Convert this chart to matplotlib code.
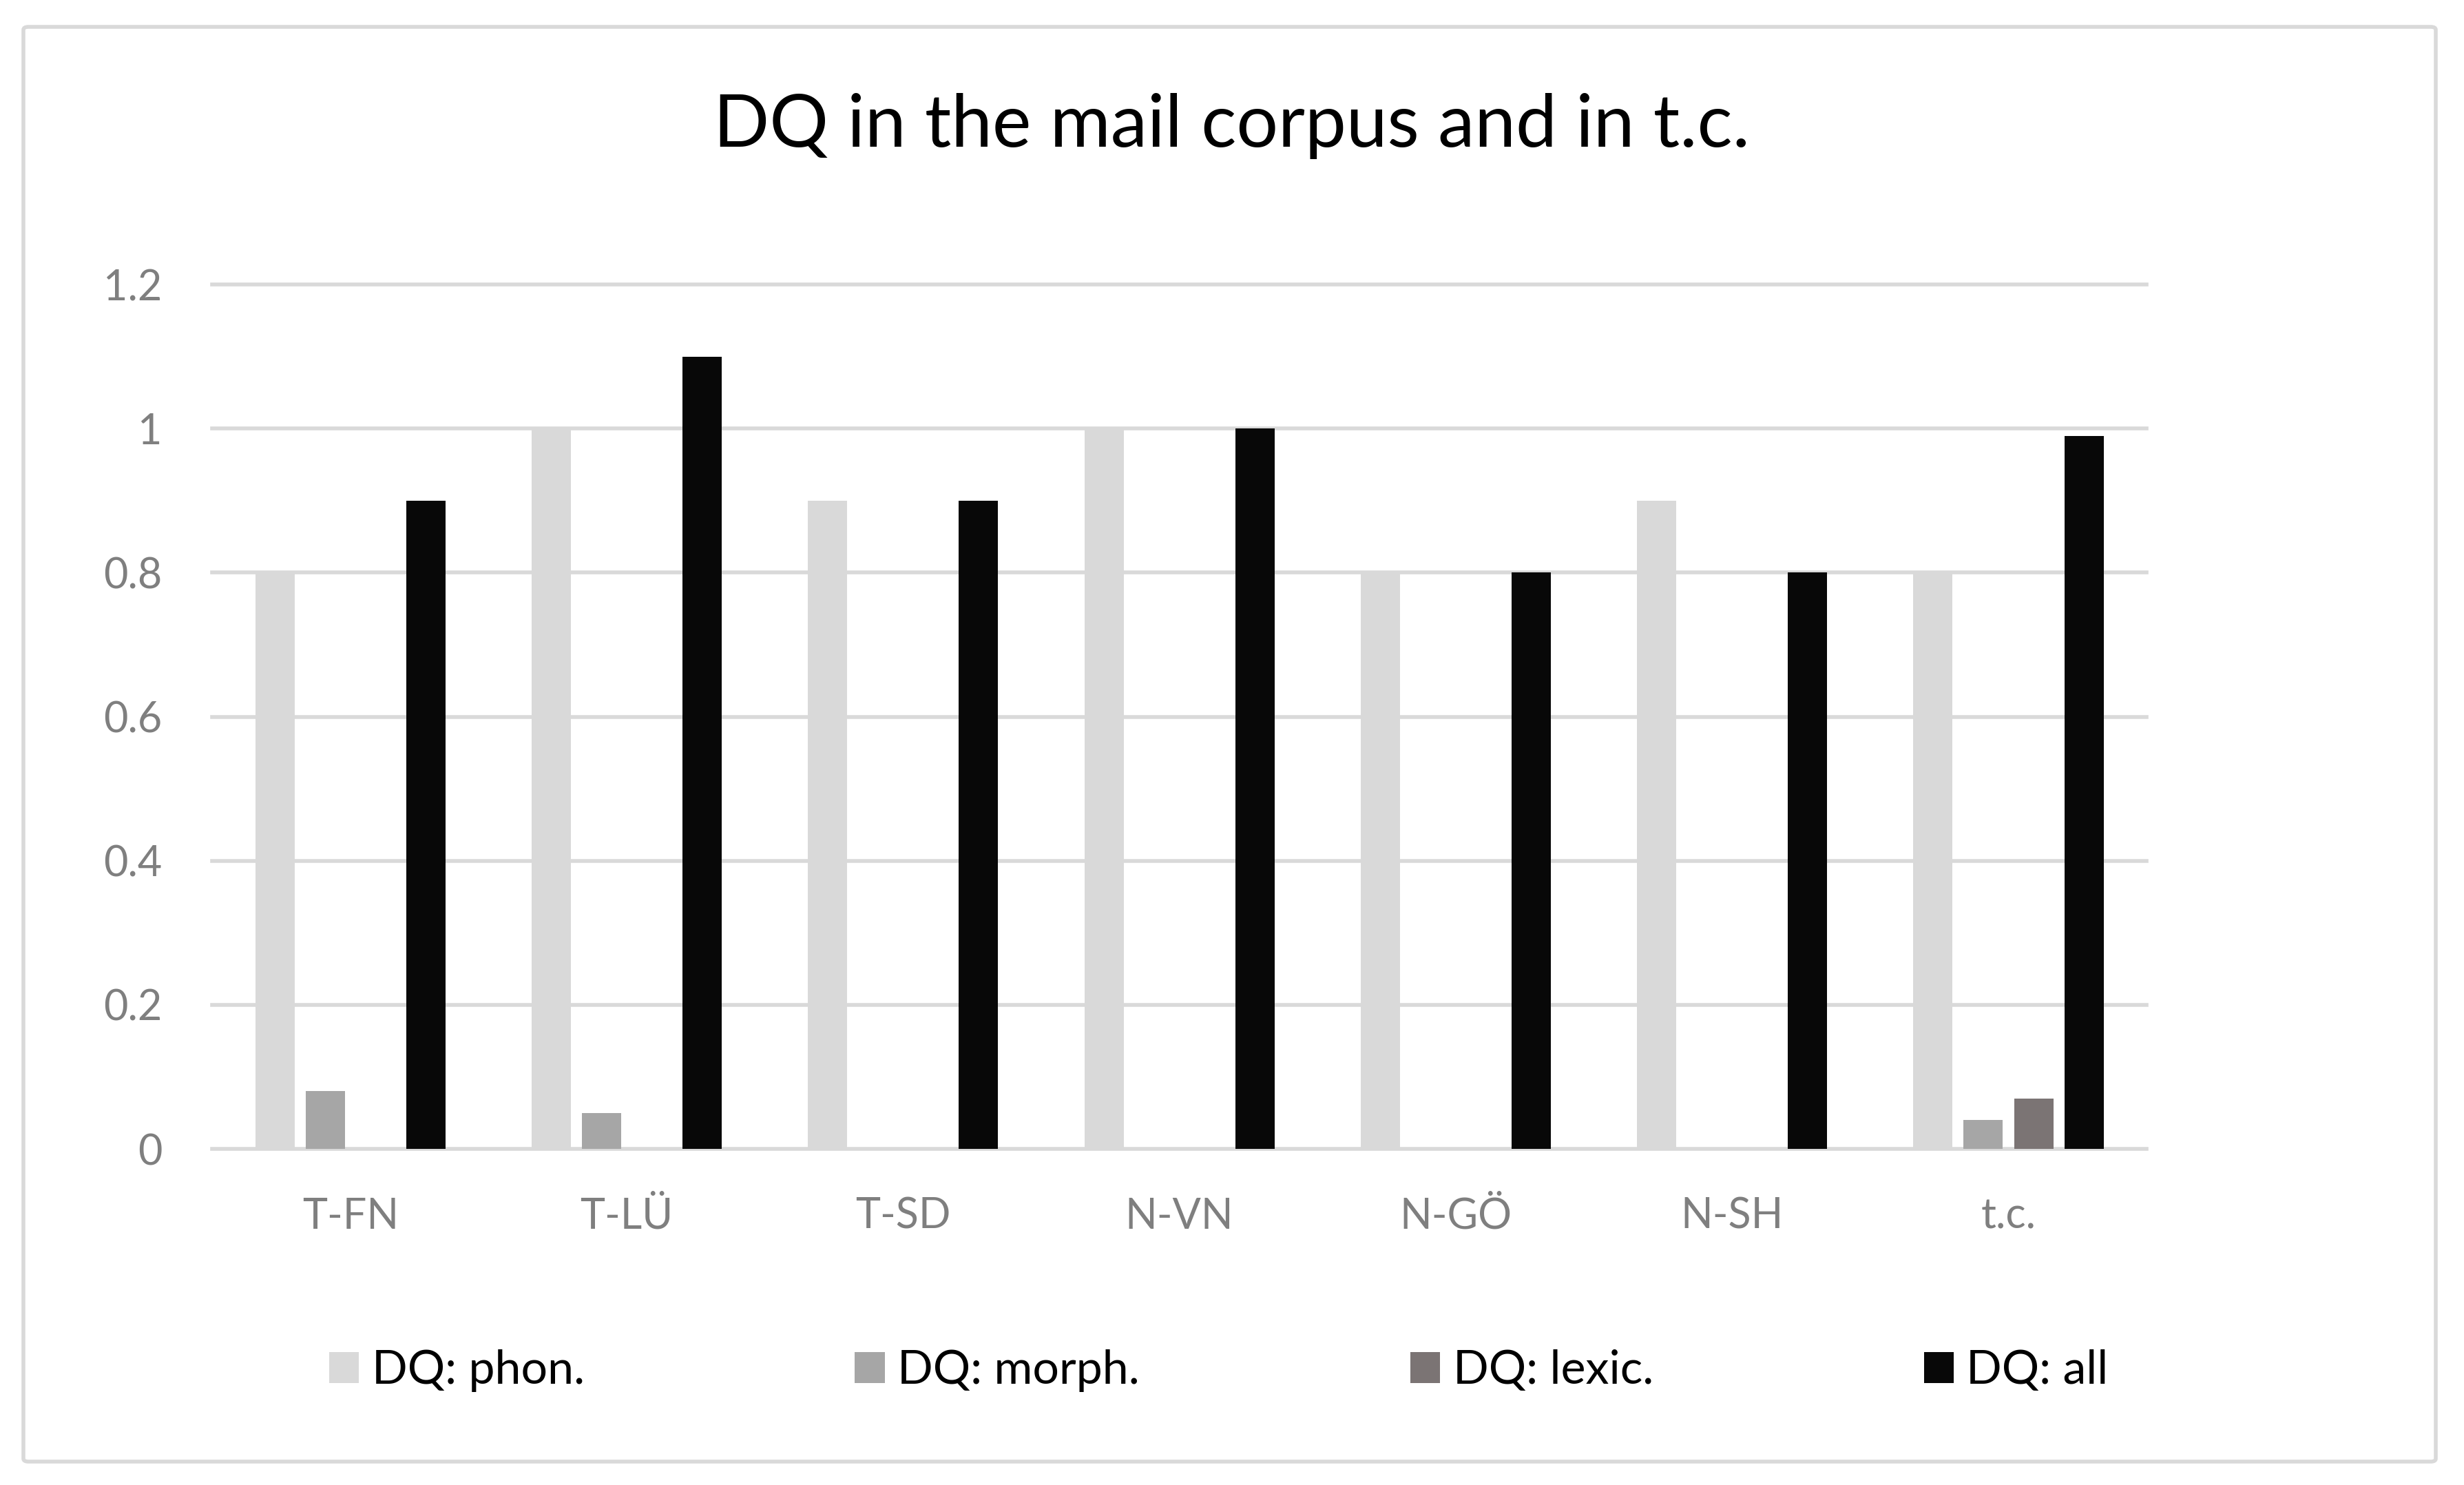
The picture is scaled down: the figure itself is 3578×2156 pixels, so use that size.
import numpy as np
import matplotlib
matplotlib.use("Agg")
import matplotlib.pyplot as plt
from matplotlib.patches import FancyBboxPatch, Patch

plt.rcParams['font.family'] = ['Lato', 'DejaVu Sans']

# data
categories = ["T-FN", "T-LÜ", "T-SD", "N-VN", "N-GÖ", "N-SH", "t.c."]
series_names = ["DQ: phon.", "DQ: morph.", "DQ: lexic.", "DQ: all"]
dq_phon = [0.8, 1.0, 0.9, 1.0, 0.8, 0.9, 0.8]
dq_morph = [0.08, 0.05, 0, 0, 0, 0, 0.04]
dq_lexic = [0, 0, 0, 0, 0, 0, 0.07]
dq_all = [0.9, 1.1, 0.9, 1.0, 0.8, 0.8, 0.99]
y_ticks = [0, 0.2, 0.4, 0.6, 0.8, 1, 1.2]
y_labels = ["0", "0.2", "0.4", "0.6", "0.8", "1", "1.2"]

colors = ["#D9D9D9", "#A6A6A6", "#7B7474", "#080808"]
grid_color = "#D9D9D9"
label_color = "#7F7F7F"

fig = plt.figure(figsize=(35.78, 21.56), dpi=100)
ax = fig.add_axes([0.0861, 0.2263, 0.8712 - 0.0861, 0.8084 - 0.2263])

x = np.arange(len(categories))
bar_w = 0.142
step = 0.182
all_series = [dq_phon, dq_morph, dq_lexic, dq_all]
for i, vals in enumerate(all_series):
    ax.bar(x + (i - 1.5) * step, vals, width=bar_w, color=colors[i],
           label=series_names[i], zorder=3)

ax.set_xlim(-0.5, len(categories) - 0.5)
ax.set_ylim(0, 1.2)
for t in y_ticks:
    ax.axhline(t, color=grid_color, lw=4, zorder=1, clip_on=False)

ax.set_yticks(y_ticks)
ax.set_yticklabels(y_labels)
ax.set_xticks(x)
ax.set_xticklabels(categories)
ax.tick_params(axis='both', length=0, labelsize=44, labelcolor=label_color)
ax.tick_params(axis='y', pad=52)
ax.tick_params(axis='x', pad=50)
for s in ax.spines.values():
    s.set_visible(False)

# title
fig.text(0.5, 0.915, "DQ in the mail corpus and in t.c.", ha="center", va="center",
         fontsize=77, color="black")

# legend
handles = [Patch(facecolor=c, edgecolor='none') for c in colors]
fig.legend(handles, series_names, loc="center", bbox_to_anchor=(0.4946, 1 - 1990 / 2156),
           ncol=4, frameon=False, fontsize=49, handlelength=0.64, handleheight=0.64,
           handletextpad=0.27, columnspacing=5.77, borderaxespad=0)

# chart border
border = FancyBboxPatch((34 / 3578, 1 - 2122 / 2156), (3537 - 34) / 3578, (2122 - 39) / 2156,
                        boxstyle="round,pad=0,rounding_size=0.002", transform=fig.transFigure,
                        facecolor="none", edgecolor=grid_color, lw=4)
fig.patches.append(border)

fig.savefig("out.png", dpi=100, facecolor="white")
